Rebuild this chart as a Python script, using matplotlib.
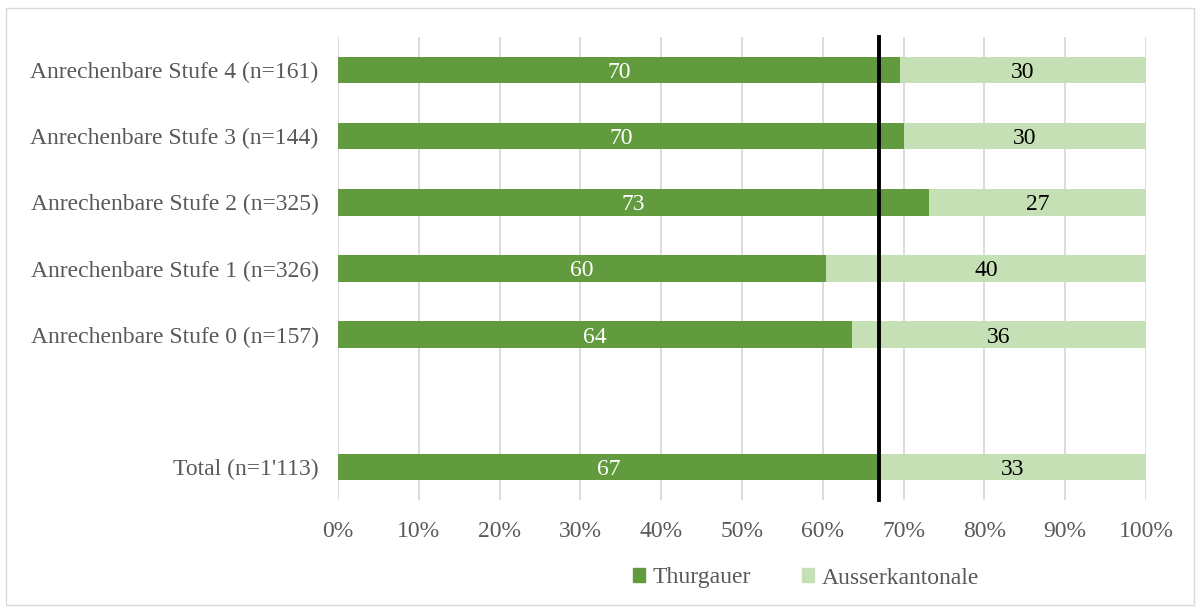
import matplotlib.pyplot as plt
from matplotlib.patches import Rectangle

plt.rcParams['font.family'] = ['Liberation Serif', 'DejaVu Serif']

# categories bottom to top, with an empty slot between Total and the Stufen
categories = ["Total (n=1'113)", "",
              "Anrechenbare Stufe 0 (n=157)", "Anrechenbare Stufe 1 (n=326)",
              "Anrechenbare Stufe 2 (n=325)", "Anrechenbare Stufe 3 (n=144)",
              "Anrechenbare Stufe 4 (n=161)"]
thurgauer = [67.0, None, 63.6, 60.4, 73.1, 70.0, 69.5]
ausserkantonale = [33.0, None, 36.4, 39.6, 26.9, 30.0, 30.5]
total_share = 67.0

dark = '#629B3E'
light = '#C5E0B4'
grey = '#595959'
fs = 17

fig = plt.figure(figsize=(11.98, 6.09), dpi=100)
ax = fig.add_axes([338 / 1198, 1 - 500 / 609, (1146 - 338) / 1198, 463 / 609])

for i, (t, a) in enumerate(zip(thurgauer, ausserkantonale)):
    if t is None:
        continue
    ax.barh(i, t, height=0.4, color=dark, zorder=2)
    ax.barh(i, a, left=t, height=0.4, color=light, zorder=2)
    ax.text(t / 2, i, f'{t:.0f}', ha='center', va='center_baseline', color='white',
            fontsize=fs, zorder=3)
    ax.text(t + a / 2, i, f'{a:.0f}', ha='center', va='center_baseline', color='black',
            fontsize=fs, zorder=3)

ax.set_xlim(0, 100)
ax.set_ylim(-0.5, len(categories) - 0.5)
ax.set_xticks(range(0, 101, 10))
ax.set_xticklabels([f'{v}%' for v in range(0, 101, 10)])
ax.set_yticks(range(len(categories)))
ax.set_yticklabels(categories)
ax.tick_params(length=0, labelsize=fs, labelcolor=grey)
ax.tick_params(axis='x', pad=15)
ax.tick_params(axis='y', pad=14)
ax.grid(axis='x', color='#D9D9D9', linewidth=1.3, zorder=0)
for s in ax.spines.values():
    s.set_visible(False)

# reference line for the overall share
ax.plot([total_share, total_share], [-0.5, len(categories) - 0.5], color='black',
        linewidth=2.8, zorder=4, clip_on=False)

handles = [Rectangle((0, 0), 1, 1, color=dark), Rectangle((0, 0), 1, 1, color=light)]
fig.legend(handles, ['Thurgauer', 'Ausserkantonale'], loc='center', ncol=2,
           bbox_to_anchor=(806 / 1198, 1 - 578 / 609), frameon=False, fontsize=fs,
           labelcolor=grey, handlelength=0.5, handleheight=0.5, handletextpad=0.3,
           columnspacing=2.2)

fig.add_artist(Rectangle((6 / 1198, 4 / 609), 1188 / 1198, 597 / 609, transform=fig.transFigure,
                         fill=False, edgecolor='#D9D9D9', linewidth=1))

fig.savefig('out.png', dpi=100)
